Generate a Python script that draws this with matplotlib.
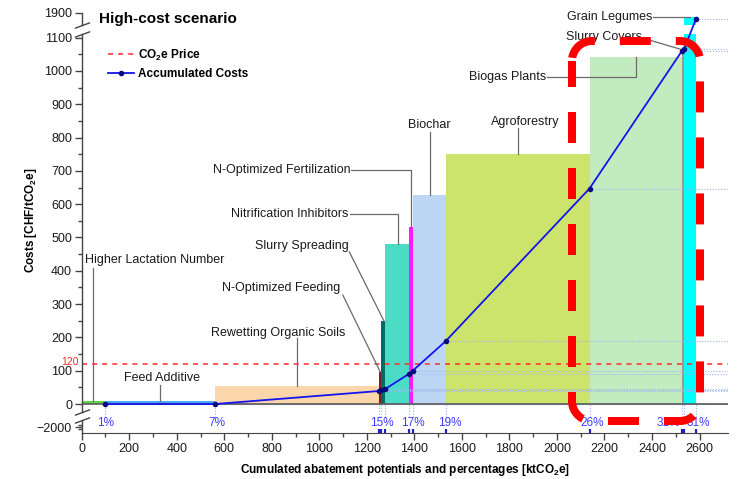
import numpy as np
import matplotlib
matplotlib.use("Agg")
import matplotlib.pyplot as plt
import matplotlib.transforms as mtransforms
from matplotlib.lines import Line2D
from matplotlib.path import Path
from matplotlib.patches import PathPatch

plt.rcParams['font.family'] = 'Liberation Sans'
plt.rcParams['mathtext.fontset'] = 'custom'
plt.rcParams['mathtext.rm'] = 'Liberation Sans'
plt.rcParams['mathtext.bf'] = 'Liberation Sans:bold'
plt.rcParams['mathtext.it'] = 'Liberation Sans:italic'

# --- data ---
measures = ["Higher Lactation Number", "Feed Additive", "Rewetting Organic Soils",
            "N-Optimized Feeding", "Slurry Spreading", "Nitrification Inhibitors",
            "N-Optimized Fertilization", "Biochar", "Agroforestry", "Biogas Plants",
            "Slurry Covers", "Grain Legumes"]
potentials = [98, 463, 688, 11, 17, 101, 15, 139, 605, 389, 9, 50]      # ktCO2e
costs = [8, 8, 55, 97, 248, 479, 532, 627, 751, 1043, 1063, 1885]       # CHF/tCO2e
acc_costs = [0, 0, 39, 41, 45, 91, 100, 189, 647, 1060, 1066, 1875]
colors = ["#5fd64a", "#45aaf0", "#fbd6aa", "#8b1a1a", "#006a66", "#4cdcc6",
          "#ff1aff", "#bdd6f4", "#cde46c", "#c2ecc0", "#a3968c", "#00ffff"]
co2_price = 120
pct_labels = ["1%", "7%", "15%", "17%", "19%", "26%", "31%", "31%"]
pct_x = [102, 568, 1263, 1393, 1547, 2147, 2467, 2595]

ends = np.cumsum(potentials)
starts = ends - np.array(potentials)

# broken y axis as a piecewise-linear scale
vb = np.array([-1e5, -2150, -1880, -20, 1112, 1850, 1e5])
tb = np.array([-87 - (1e5 - 2150) * 0.12, -87, -54.6, -20, 1112, 1138,
               1138 + (1e5 - 1850) * 0.72])


def fwd(v):
    return np.interp(v, vb, tb)


def inv(t):
    return np.interp(t, tb, vb)


fig = plt.figure(figsize=(7.41, 4.79), dpi=100)
ax = fig.add_axes([0.1103, 0.0960, 0.8722, 0.8894])
ax.set_yscale('function', functions=(fwd, inv))
ax.set_xlim(0, 2720)
ax.set_ylim(-2150, 1925)

ax.bar(starts, costs, width=potentials, align='edge', color=colors, lw=0, zorder=1)

# dotted guides
xr = 2720
ax.hlines(acc_costs, ends, xr, colors="#9fb4ee", linestyles=(0, (1, 1.5)), lw=0.8, zorder=1.5)
ax.vlines(ends, -1000, 0, colors="#9fb4ee", linestyles=(0, (1, 1.5)), lw=0.8, zorder=1.5)

ax.axhline(0, color="#5a5a5a", lw=1.2, zorder=2)
ax.axhline(co2_price, color="#ff2a2a", lw=1.1, dashes=(3.3, 3.3), zorder=2.2)
ax.axhspan(1118, 1842, color="white", lw=0, zorder=2.8)

ax.plot(ends, acc_costs, color="#1414f0", lw=1.3, marker='o', ms=3,
        mfc="#0a0a80", mec="#0a0a80", zorder=3)

# blue marks on the x axis
bt = mtransforms.blended_transform_factory(ax.transData, ax.transAxes)
ax.vlines(ends[2:], 0, 0.01, colors="#2020c0", lw=1.6, transform=bt, clip_on=False, zorder=4)

for lab, x in zip(pct_labels, pct_x):
    ax.text(x, -1905, lab, color="#3c3cff", fontsize=8.5, ha='center', va='center', zorder=3)

# leader labels: text x, text y, alignment, via points, anchor x on bar
LC = "#6a6a6a"
specs = [
    (14, 432, 'left', [(46, 408)], 46),
    (337, 79, 'center', [(330, 57)], 330),
    (827, 214, 'center', [(907, 198)], 907),
    (1090, 348, 'right', [(1099, 327)], 1256),
    (1123, 474, 'right', [(1126, 457)], 1273),
    (1123, 570, 'right', [(1127, 570), (1333, 570)], 1333),
    (1130, 703, 'right', [(1134, 703), (1386, 703)], 1386),
    (1463, 838, 'center', [(1467, 818)], 1467),
    (1867, 848, 'center', [(1838, 829)], 1838),
    (1955, 981, 'right', [(1959, 981), (2334, 981)], 2334),
    (2358, 1102, 'right', [(2364, 1098)], 2530),
    (2400, 1885, 'right', [(2405, 1885)], 2561),
]
for name, cost, (tx, ty, ha, via, axx) in zip(measures, costs, specs):
    ax.text(tx, ty, name, fontsize=9, ha=ha, va='center', color="#1a1a1a", zorder=4)
    pts = via + [(axx, cost)]
    ax.plot([p[0] for p in pts], [p[1] for p in pts], color=LC, lw=0.9, zorder=2.6)

# axes styling
for s in ['top', 'right', 'left']:
    ax.spines[s].set_visible(False)
ax.spines['bottom'].set_color("#444444")
lt = mtransforms.blended_transform_factory(ax.transAxes, ax.transData)
for y0, y1 in [(-2150, -1600), (-250, 1115), (1845, 1900)]:
    ax.plot([0, 0], [y0, y1], color="#444444", lw=1.0, transform=lt, clip_on=False, zorder=5)
ax.plot([0, 0, 0, 0], [-1600, -250, 1115, 1845], ls='none', marker=[(-1, -0.37), (1, 0.37)],
        ms=11, mec="#444444", mew=1.0, transform=lt, clip_on=False, zorder=5)

yt = [-2000] + list(range(0, 1200, 100)) + [1900]
ax.set_yticks(yt, ["\u22122000"] + [str(v) for v in range(0, 1200, 100)] + ["1900"])
ax.set_yticks([-2050, -1950] + list(range(50, 1100, 100)), minor=True)
ax.set_xticks(range(0, 2700, 200))
ax.set_xticks(range(100, 2700, 200), minor=True)
ax.tick_params(axis='both', which='major', direction='out', length=5, width=1,
               color="#444444", labelsize=9, labelcolor="#1a1a1a", pad=2)
ax.tick_params(axis='both', which='minor', direction='out', length=3, width=1, color="#444444")
ax.tick_params(axis='y', which='both', right=False)
ax.tick_params(axis='x', which='both', top=False)

ax.text(-0.005, 125, "120", color="#ff2a2a", fontsize=7.5, ha='right', va='center',
        transform=lt, clip_on=False)

ax.set_xlabel(r"Cumulated abatement potentials and percentages [ktCO$_\mathbf{2}$e]",
              fontsize=8.5, fontweight='bold', labelpad=5)
ax.set_ylabel(r"Costs [CHF/tCO$_\mathbf{2}$e]", fontsize=8.5, fontweight='bold')
ax.yaxis.set_label_coords(-0.066, 0.5)

ax.text(0.027, 0.972, "High-cost scenario", transform=ax.transAxes, fontsize=11,
        fontweight='bold', va='center', ha='left')

handles = [Line2D([], [], color="#ff2a2a", lw=1.1, dashes=(3.3, 3.3)),
           Line2D([], [], color="#1414f0", lw=1.3, marker='o', ms=3,
                  mfc="#0a0a80", mec="#0a0a80")]
ax.legend(handles, [r"CO$_\mathbf{2}$e Price", "Accumulated Costs"], loc='upper left',
          bbox_to_anchor=(0.04, 0.905), frameon=False, borderpad=0, borderaxespad=0,
          handlelength=2.2, handletextpad=0.4, labelspacing=0.45,
          prop={'size': 8.5, 'weight': 'bold'})

# red highlight frame (annotation overlay drawn in image pixels, y down)
pix = mtransforms.Affine2D().scale(0.01, -0.01).translate(0, 4.79) + fig.dpi_scale_trans
bx0, bx1, by0, by1, r = 572, 700, 41, 421, 20


def arc(cx, cy, a0, a1):
    a = np.radians(np.linspace(a0, a1, 20))
    return list(zip(cx + r * np.cos(a), cy + r * np.sin(a)))


run1 = ([(bx0 + r, by1)] + arc(bx1 - r, by1 - r, 90, 0) + arc(bx1 - r, by0 + r, 0, -90)
        + arc(bx0 + r, by0 + r, -90, -180))
run2 = [(bx0, by0 + r)] + arc(bx0 + r, by1 - r, 180, 90)
for run, off in [(run1, 5.0), (run2, 0.625)]:
    ax.add_patch(PathPatch(Path(run), transform=pix, fill=False, ec="#ff0000", lw=5.76,
                           ls=(off, (3.875, 3.125)), capstyle='butt', zorder=6,
                           clip_on=False))

fig.savefig("out.png", dpi=100)
